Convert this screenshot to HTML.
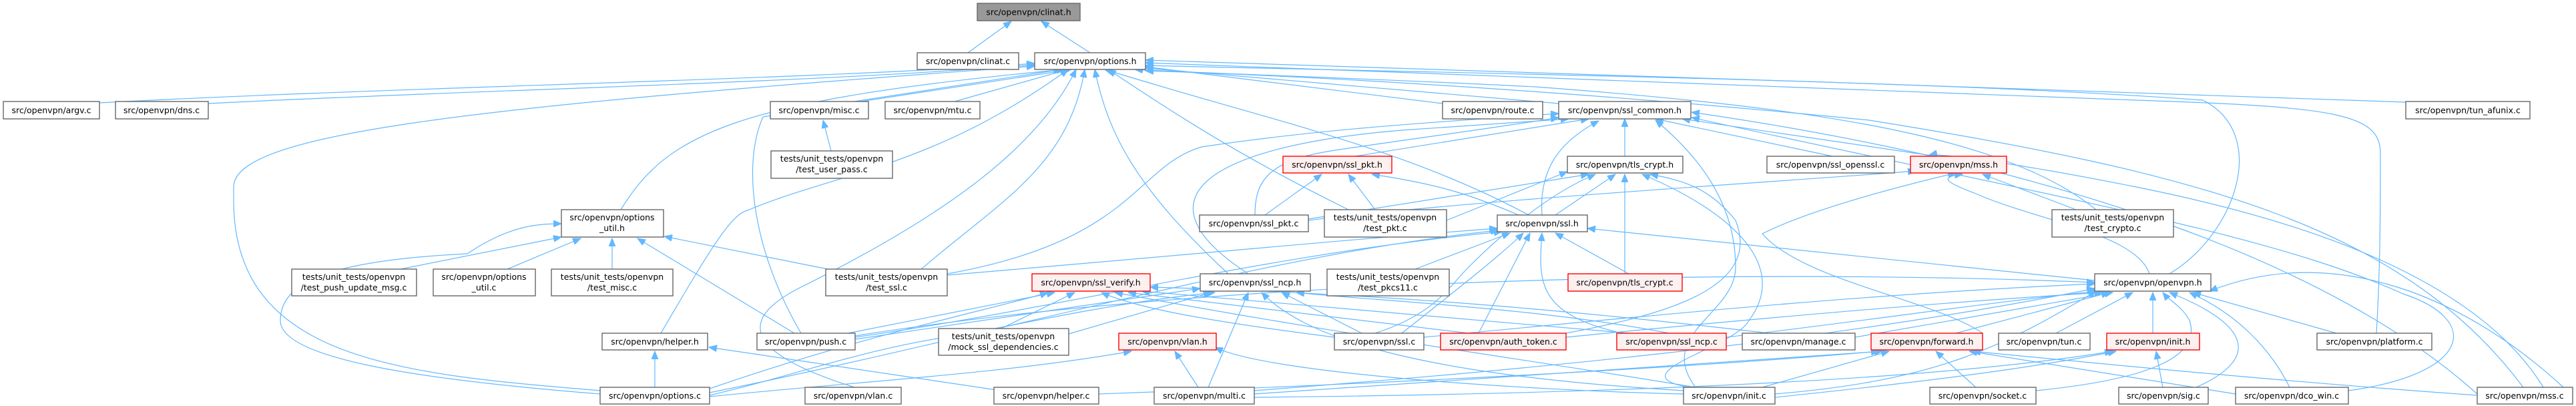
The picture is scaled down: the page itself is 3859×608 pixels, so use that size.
<!DOCTYPE html>
<html><head><meta charset="utf-8">
<style>
html,body{margin:0;padding:0;background:#fff;}
svg{display:block;}
text{font-family:"DejaVu Sans","Liberation Sans",sans-serif;font-size:12.5px;fill:#000;}
.n{fill:#fff;stroke:#666;stroke-width:1.4;}
.r{fill:#fff0f0;stroke:#ff0000;stroke-width:1.4;}
.g{fill:#999;stroke:#666;stroke-width:1.4;}
path.e{fill:none;stroke:#63b8ff;stroke-width:1.2;marker-end:url(#a);}
</style></head><body>
<svg width="3859" height="608" viewBox="0 0 3859 608" xmlns="http://www.w3.org/2000/svg">
<defs><marker id="a" markerUnits="userSpaceOnUse" markerWidth="13" markerHeight="10" refX="12" refY="5" orient="auto"><path d="M0,0 L12,5 L0,10 z" fill="#63b8ff" stroke="#63b8ff"/></marker></defs>
<g>
<!-- edges -->
<path class="e" d="M1450,79 L1515,32"/>
<path class="e" d="M1633,79 L1560,32"/>
<path class="e" d="M149,154 C600,130 1200,120 1550,95"/>
<path class="e" d="M312,155 C700,135 1200,125 1550,97"/>
<path class="e" d="M1280,152 L1590,104"/>
<path class="e" d="M1430,152 L1600,104"/>
<path class="e" d="M2161,155 L1716,100"/>
<path class="e" d="M2335,155 L1716,102"/>
<path class="e" d="M3604,153 C3000,130 2300,110 1716,90"/>
<path class="e" d="M930,314 C1000,200 1100,150 1595,104"/>
<path class="e" d="M899,585 C600,560 350,540 350,300 L350,280 C350,200 700,160 1550,99"/>
<path class="e" d="M1200,499 C1130,380 1110,250 1143,175 C1300,150 1500,120 1605,104"/>
<path class="e" d="M990,499 C1060,380 1095,320 1120,315 C1250,260 1400,250 1600,104"/>
<path class="e" d="M1380,403 C1500,300 1600,250 1625,104"/>
<path class="e" d="M1280,580 C1120,530 1100,480 1200,430 C1400,330 1550,230 1612,104"/>
<path class="e" d="M1840,410 C1700,280 1660,200 1640,104"/>
<path class="e" d="M2290,322 C2100,220 1900,180 1655,104"/>
<path class="e" d="M2020,314 C1850,230 1760,170 1660,104"/>
<path class="e" d="M3250,410 C3350,350 3400,200 3300,150 C2900,120 2200,110 1716,98"/>
<path class="e" d="M3560,499 C3566,400 3566,300 3566,230 C3566,170 3500,160 3200,150 C2600,130 2100,110 1716,94"/>
<path class="e" d="M3780,580 C3600,340 3300,260 2800,180 C2400,140 2000,115 1716,106"/>
<path class="e" d="M3140,314 C3000,200 2700,160 2300,130 C2000,115 1800,110 1700,104"/>
<path class="e" d="M3518,585 C3700,560 3720,480 3600,440 C3400,350 3100,300 2534,176"/>
<path class="e" d="M2030,234 L2380,178"/>
<path class="e" d="M2434,234 L2434,178"/>
<path class="e" d="M2900,234 L2520,178"/>
<path class="e" d="M2745,234 L2480,178"/>
<path class="e" d="M2310,322 C2305,250 2340,210 2395,181"/>
<path class="e" d="M1880,322 C1880,270 1900,240 2000,225 C2100,210 2250,190 2335,176"/>
<path class="e" d="M1419,410 C1700,360 1700,250 1800,220 C2000,190 2200,180 2335,170"/>
<path class="e" d="M2540,580 C2480,500 2600,470 2600,400 C2600,300 2540,230 2480,180"/>
<path class="e" d="M1870,410 C1700,300 1800,220 2100,195 L2350,178"/>
<path class="e" d="M3711,590 C3500,400 3100,250 2534,168"/>
<path class="e" d="M1245,226 L1233,180"/>
<path class="e" d="M760,403 L870,357"/>
<path class="e" d="M917,403 L917,357"/>
<path class="e" d="M600,403 L841,355"/>
<path class="e" d="M899,590 C650,570 420,540 420,480 C420,420 500,390 700,380 C760,340 800,335 841,335"/>
<path class="e" d="M1190,499 L955,357"/>
<path class="e" d="M1240,403 L995,354"/>
<path class="e" d="M981,580 L981,526"/>
<path class="e" d="M1500,585 L1062,520"/>
<path class="e" d="M1895,322 L1980,261"/>
<path class="e" d="M2060,314 L2020,261"/>
<path class="e" d="M2275,322 C2200,290 2150,275 2055,261"/>
<path class="e" d="M2330,322 L2420,261"/>
<path class="e" d="M2434,410 L2434,261"/>
<path class="e" d="M2167,330 L2348,257"/>
<path class="e" d="M1960,328 L2380,261"/>
<path class="e" d="M2060,499 C2150,470 2170,430 2200,400 C2250,350 2320,290 2390,261"/>
<path class="e" d="M2530,580 C2420,560 2600,520 2620,480 C2680,400 2600,320 2460,261"/>
<path class="e" d="M2346,499 C2500,470 2640,430 2600,330 C2560,280 2520,270 2472,261"/>
<path class="e" d="M3810,580 C3700,400 3400,320 3200,280 C3000,240 2900,230 2890,232"/>
<path class="e" d="M2970,499 C2900,450 2700,420 2640,350 C2700,320 2800,290 2930,259"/>
<path class="e" d="M3110,314 L2970,261"/>
<path class="e" d="M1960,330 C2200,300 2700,270 2870,256"/>
<path class="e" d="M3220,410 C3200,350 3050,330 2960,290 C2920,275 2900,265 2940,261"/>
<path class="e" d="M1419,412 C1800,380 2000,360 2243,342"/>
<path class="e" d="M2120,403 L2262,349"/>
<path class="e" d="M2440,410 L2330,349"/>
<path class="e" d="M2215,499 L2292,349"/>
<path class="e" d="M2100,499 C2200,420 2250,380 2282,349"/>
<path class="e" d="M2430,499 C2300,470 2305,420 2310,349"/>
<path class="e" d="M3138,420 L2378,342"/>
<path class="e" d="M1281,505 C1600,460 1900,380 2250,347"/>
<path class="e" d="M1063,588 C1500,500 1900,380 2245,345"/>
<path class="e" d="M1500,492 L1610,438"/>
<path class="e" d="M1999,505 C1800,480 1700,460 1650,438"/>
<path class="e" d="M1270,499 L1580,438"/>
<path class="e" d="M1063,582 C1300,500 1500,460 1570,438"/>
<path class="e" d="M2200,499 L1690,438"/>
<path class="e" d="M2440,499 L1710,436"/>
<path class="e" d="M2540,580 C2300,540 2000,500 1670,438"/>
<path class="e" d="M2650,499 C2400,470 2100,440 1723,430"/>
<path class="e" d="M2040,499 L1920,438"/>
<path class="e" d="M1810,580 L1870,438"/>
<path class="e" d="M1063,592 C1200,560 1300,520 1450,500 C1600,470 1700,450 1820,438"/>
<path class="e" d="M1281,508 L1798,432"/>
<path class="e" d="M2522,585 C2100,560 1950,500 1890,438"/>
<path class="e" d="M2500,499 C2300,460 2050,450 1942,438"/>
<path class="e" d="M1601,500 L1815,438"/>
<path class="e" d="M1795,580 L1760,526"/>
<path class="e" d="M1063,594 C1300,570 1500,560 1695,526"/>
<path class="e" d="M2522,590 C2300,585 1900,560 1820,520"/>
<path class="e" d="M2930,499 L3160,438"/>
<path class="e" d="M3080,499 L3195,438"/>
<path class="e" d="M3225,499 L3225,438"/>
<path class="e" d="M3500,499 L3285,438"/>
<path class="e" d="M3290,580 C3380,540 3380,490 3250,438"/>
<path class="e" d="M3430,580 C3400,520 3350,470 3280,438"/>
<path class="e" d="M3050,585 C3200,570 3300,540 3280,480 C3270,460 3250,450 3240,438"/>
<path class="e" d="M2659,590 C2900,570 3000,520 3140,436"/>
<path class="e" d="M1879,585 C2200,560 2700,520 3138,432"/>
<path class="e" d="M2133,505 C2500,470 2800,440 3138,425"/>
<path class="e" d="M2346,505 C2700,470 2950,450 3150,438"/>
<path class="e" d="M2779,505 L3165,438"/>
<path class="e" d="M2586,505 C2800,480 3000,450 3145,436"/>
<path class="e" d="M1281,503 C1800,420 2600,400 3138,423"/>
<path class="e" d="M3840,580 C3700,450 3500,360 3310,436"/>
<path class="e" d="M2960,580 L2900,526"/>
<path class="e" d="M1879,590 C2300,560 2600,540 2820,526"/>
<path class="e" d="M2640,580 L2830,526"/>
<path class="e" d="M3349,590 L2950,526"/>
<path class="e" d="M3711,592 C3400,570 3100,540 2955,526"/>
<path class="e" d="M1646,590 C2200,570 2600,545 2815,526"/>
<path class="e" d="M3240,580 L3230,526"/>
<path class="e" d="M2659,595 C2900,570 3050,550 3170,526"/>
<path class="e" d="M1879,595 C2400,590 2900,570 3165,526"/>
</g>
<!-- nodes -->
<g>
<rect class="g" x="1464" y="5" width="154" height="26"/><text x="1541" y="22.5" text-anchor="middle">src/openvpn/clinat.h</text>
<rect class="n" x="1374" y="79" width="152" height="25"/><text x="1450" y="96" text-anchor="middle">src/openvpn/clinat.c</text>
<rect class="n" x="1550" y="79" width="166" height="25"/><text x="1633" y="96" text-anchor="middle">src/openvpn/options.h</text>
<rect class="n" x="5" y="152" width="144" height="26"/><text x="77" y="169.5" text-anchor="middle">src/openvpn/argv.c</text>
<rect class="n" x="173" y="152" width="139" height="26"/><text x="242" y="169.5" text-anchor="middle">src/openvpn/dns.c</text>
<rect class="n" x="1154" y="152" width="147" height="26"/><text x="1227" y="169.5" text-anchor="middle">src/openvpn/misc.c</text>
<rect class="n" x="1326" y="152" width="142" height="26"/><text x="1397" y="169.5" text-anchor="middle">src/openvpn/mtu.c</text>
<rect class="n" x="2161" y="152" width="150" height="26"/><text x="2236" y="169.5" text-anchor="middle">src/openvpn/route.c</text>
<rect class="n" x="2335" y="152" width="198" height="26"/><text x="2434" y="169.5" text-anchor="middle">src/openvpn/ssl_common.h</text>
<rect class="n" x="3604" y="152" width="186" height="26"/><text x="3697" y="169.5" text-anchor="middle">src/openvpn/tun_afunix.c</text>
<rect class="n" x="1155" y="226" width="182" height="41"/><text x="1246" y="242" text-anchor="middle">tests/unit_tests/openvpn</text><text x="1246" y="258" text-anchor="middle">/test_user_pass.c</text>
<rect class="r" x="1922" y="234" width="163" height="25"/><text x="2003" y="251" text-anchor="middle">src/openvpn/ssl_pkt.h</text>
<rect class="n" x="2348" y="234" width="173" height="25"/><text x="2434" y="251" text-anchor="middle">src/openvpn/tls_crypt.h</text>
<rect class="n" x="2647" y="234" width="191" height="25"/><text x="2742" y="251" text-anchor="middle">src/openvpn/ssl_openssl.c</text>
<rect class="r" x="2862" y="234" width="144" height="25"/><text x="2934" y="251" text-anchor="middle">src/openvpn/mss.h</text>
<rect class="n" x="841" y="314" width="153" height="41"/><text x="917" y="330" text-anchor="middle">src/openvpn/options</text><text x="917" y="346" text-anchor="middle">_util.h</text>
<rect class="n" x="1797" y="322" width="163" height="25"/><text x="1878" y="339" text-anchor="middle">src/openvpn/ssl_pkt.c</text>
<rect class="n" x="1984" y="314" width="183" height="41"/><text x="2075" y="330" text-anchor="middle">tests/unit_tests/openvpn</text><text x="2075" y="346" text-anchor="middle">/test_pkt.c</text>
<rect class="n" x="2243" y="322" width="135" height="25"/><text x="2310" y="339" text-anchor="middle">src/openvpn/ssl.h</text>
<rect class="n" x="3074" y="314" width="182" height="41"/><text x="3165" y="330" text-anchor="middle">tests/unit_tests/openvpn</text><text x="3165" y="346" text-anchor="middle">/test_crypto.c</text>
<rect class="n" x="437" y="403" width="187" height="40"/><text x="530" y="419" text-anchor="middle">tests/unit_tests/openvpn</text><text x="530" y="435" text-anchor="middle">/test_push_update_msg.c</text>
<rect class="n" x="649" y="403" width="153" height="40"/><text x="725" y="419" text-anchor="middle">src/openvpn/options</text><text x="725" y="435" text-anchor="middle">_util.c</text>
<rect class="n" x="826" y="403" width="182" height="40"/><text x="917" y="419" text-anchor="middle">tests/unit_tests/openvpn</text><text x="917" y="435" text-anchor="middle">/test_misc.c</text>
<rect class="n" x="1237" y="403" width="182" height="40"/><text x="1328" y="419" text-anchor="middle">tests/unit_tests/openvpn</text><text x="1328" y="435" text-anchor="middle">/test_ssl.c</text>
<rect class="r" x="1546" y="410" width="177" height="26"/><text x="1634" y="427.5" text-anchor="middle">src/openvpn/ssl_verify.h</text>
<rect class="n" x="1798" y="410" width="165" height="26"/><text x="1880" y="427.5" text-anchor="middle">src/openvpn/ssl_ncp.h</text>
<rect class="n" x="1988" y="403" width="183" height="40"/><text x="2079" y="419" text-anchor="middle">tests/unit_tests/openvpn</text><text x="2079" y="435" text-anchor="middle">/test_pkcs11.c</text>
<rect class="r" x="2349" y="410" width="171" height="26"/><text x="2434" y="427.5" text-anchor="middle">src/openvpn/tls_crypt.c</text>
<rect class="n" x="3138" y="410" width="174" height="26"/><text x="3225" y="427.5" text-anchor="middle">src/openvpn/openvpn.h</text>
<rect class="n" x="902" y="499" width="158" height="25"/><text x="981" y="516" text-anchor="middle">src/openvpn/helper.h</text>
<rect class="n" x="1134" y="499" width="147" height="25"/><text x="1207" y="516" text-anchor="middle">src/openvpn/push.c</text>
<rect class="n" x="1406" y="492" width="195" height="40"/><text x="1503" y="508" text-anchor="middle">tests/unit_tests/openvpn</text><text x="1503" y="524" text-anchor="middle">/mock_ssl_dependencies.c</text>
<rect class="r" x="1676" y="499" width="146" height="25"/><text x="1749" y="516" text-anchor="middle">src/openvpn/vlan.h</text>
<rect class="n" x="1999" y="499" width="134" height="25"/><text x="2066" y="516" text-anchor="middle">src/openvpn/ssl.c</text>
<rect class="r" x="2158" y="499" width="188" height="25"/><text x="2252" y="516" text-anchor="middle">src/openvpn/auth_token.c</text>
<rect class="r" x="2422" y="499" width="164" height="25"/><text x="2504" y="516" text-anchor="middle">src/openvpn/ssl_ncp.c</text>
<rect class="n" x="2610" y="499" width="169" height="25"/><text x="2694" y="516" text-anchor="middle">src/openvpn/manage.c</text>
<rect class="r" x="2803" y="499" width="167" height="25"/><text x="2886" y="516" text-anchor="middle">src/openvpn/forward.h</text>
<rect class="n" x="2994" y="499" width="137" height="25"/><text x="3062" y="516" text-anchor="middle">src/openvpn/tun.c</text>
<rect class="r" x="3156" y="499" width="139" height="25"/><text x="3225" y="516" text-anchor="middle">src/openvpn/init.h</text>
<rect class="n" x="3471" y="499" width="172" height="25"/><text x="3557" y="516" text-anchor="middle">src/openvpn/platform.c</text>
<rect class="n" x="899" y="580" width="164" height="25"/><text x="981" y="597" text-anchor="middle">src/openvpn/options.c</text>
<rect class="n" x="1206" y="580" width="144" height="25"/><text x="1278" y="597" text-anchor="middle">src/openvpn/vlan.c</text>
<rect class="n" x="1489" y="580" width="157" height="25"/><text x="1567" y="597" text-anchor="middle">src/openvpn/helper.c</text>
<rect class="n" x="1729" y="580" width="150" height="25"/><text x="1804" y="597" text-anchor="middle">src/openvpn/multi.c</text>
<rect class="n" x="2522" y="580" width="137" height="25"/><text x="2590" y="597" text-anchor="middle">src/openvpn/init.c</text>
<rect class="n" x="2891" y="580" width="159" height="25"/><text x="2970" y="597" text-anchor="middle">src/openvpn/socket.c</text>
<rect class="n" x="3174" y="580" width="134" height="25"/><text x="3241" y="597" text-anchor="middle">src/openvpn/sig.c</text>
<rect class="n" x="3349" y="580" width="169" height="25"/><text x="3433" y="597" text-anchor="middle">src/openvpn/dco_win.c</text>
<rect class="n" x="3711" y="580" width="143" height="25"/><text x="3782" y="597" text-anchor="middle">src/openvpn/mss.c</text>
</g>
</svg>
</body></html>
